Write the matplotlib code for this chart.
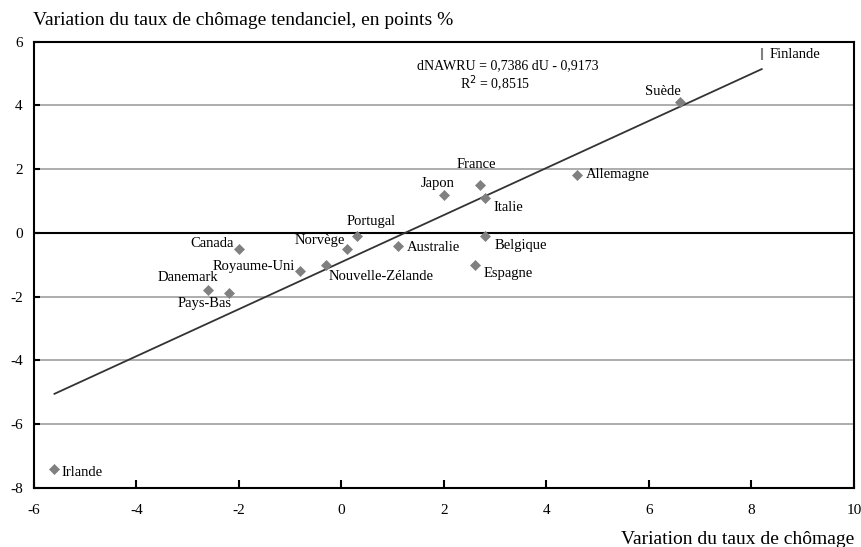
import matplotlib.pyplot as plt
import numpy as np

plt.rcParams['font.family'] = ['Liberation Serif', 'DejaVu Serif']

# data
pays = ['Finlande', 'Suède', 'Allemagne', 'France', 'Japon', 'Italie', 'Portugal',
        'Belgique', 'Australie', 'Norvège', 'Canada', 'Nouvelle-Zélande',
        'Royaume-Uni', 'Espagne', 'Danemark', 'Pays-Bas', 'Irlande']
du = [8.2, 6.6, 4.6, 2.7, 2.0, 2.8, 0.3, 2.8, 1.1, 0.1, -2.0, -0.3, -0.8, 2.6, -2.6, -2.2, -5.6]
dnawru = [5.6, 4.1, 1.8, 1.5, 1.2, 1.1, -0.1, -0.1, -0.4, -0.5, -0.5, -1.0, -1.2, -1.0, -1.8, -1.9, -7.4]

pente = 0.7386
constante = -0.9173
r2 = 0.8515

xticks = [-6, -4, -2, 0, 2, 4, 6, 8, 10]
yticks = [-8, -6, -4, -2, 0, 2, 4, 6]

# label placement: offset in pixels from the marker, alignment
etiquettes = {
    'Finlande': (8, 0, 'left'),
    'Suède': (-17, 11, 'center'),
    'Allemagne': (9, 1, 'left'),
    'France': (-3, 21, 'center'),
    'Japon': (-6, 11, 'center'),
    'Italie': (8, -10, 'left'),
    'Portugal': (14, 15, 'center'),
    'Belgique': (10, -9, 'left'),
    'Australie': (9, -2, 'left'),
    'Norvège': (-2, 8, 'right'),
    'Canada': (-5, 5, 'right'),
    'Nouvelle-Zélande': (3, -12, 'left'),
    'Royaume-Uni': (-6, 5, 'right'),
    'Espagne': (9, -9, 'left'),
    'Danemark': (-20, 13, 'center'),
    'Pays-Bas': (-24, -10, 'center'),
    'Irlande': (7, -4, 'left'),
}

fig = plt.figure(figsize=(8.62, 5.47), dpi=100)
ax = fig.add_axes([0.0394, 0.1084, 0.9513, 0.8154])

ax.set_xlim(-6, 10)
ax.set_ylim(-8, 6)

for y in yticks:
    if y in (-8, 6):
        continue
    if y == 0:
        ax.axhline(y, color='black', lw=1.5, zorder=1)
    else:
        ax.axhline(y, color='#a0a0a0', lw=1.2, zorder=1)

# regression line across the data range
xs = np.array([min(du), max(du)])
ax.plot(xs, pente * xs + constante, color='#333333', lw=1.3, zorder=2)

for nom, x, y in zip(pays, du, dnawru):
    m = '|' if nom == 'Finlande' else 'D'
    ax.plot(x, y, marker=m, ms=5 if m == 'D' else 8, color='#808080',
            mec='#808080', mew=1.5 if m == '|' else 0.5, zorder=3, ls='none')
    dx, dy, ha = etiquettes[nom]
    ax.annotate(nom, (x, y), xytext=(dx, dy), textcoords='offset pixels',
                ha=ha, va='center', fontsize=10.5, zorder=4)

ax.text(3.25, 5.24, 'dNAWRU = 0,7386 dU - 0,9173', ha='center', va='center', fontsize=10)
ax.text(3.0, 4.67, 'R$^2$ = 0,8515', ha='center', va='center', fontsize=10)

ax.set_xticks(xticks)
ax.set_yticks(yticks)
ax.set_xticklabels([str(t) for t in xticks], fontsize=11)
ax.set_yticklabels([str(t) for t in yticks], fontsize=11)
ax.tick_params(axis='x', direction='in', length=6, width=1.5, pad=12)
ax.tick_params(axis='y', direction='in', length=4, width=1.5, pad=8)

for s in ax.spines.values():
    s.set_linewidth(1.5)
    s.set_color('black')

fig.text(0.038, 0.963, 'Variation du taux de chômage tendanciel, en points %',
         ha='left', va='center', fontsize=14)
fig.text(0.991, 0.0128, 'Variation du taux de chômage', ha='right', va='center', fontsize=14)

fig.savefig('out.png', dpi=100)
